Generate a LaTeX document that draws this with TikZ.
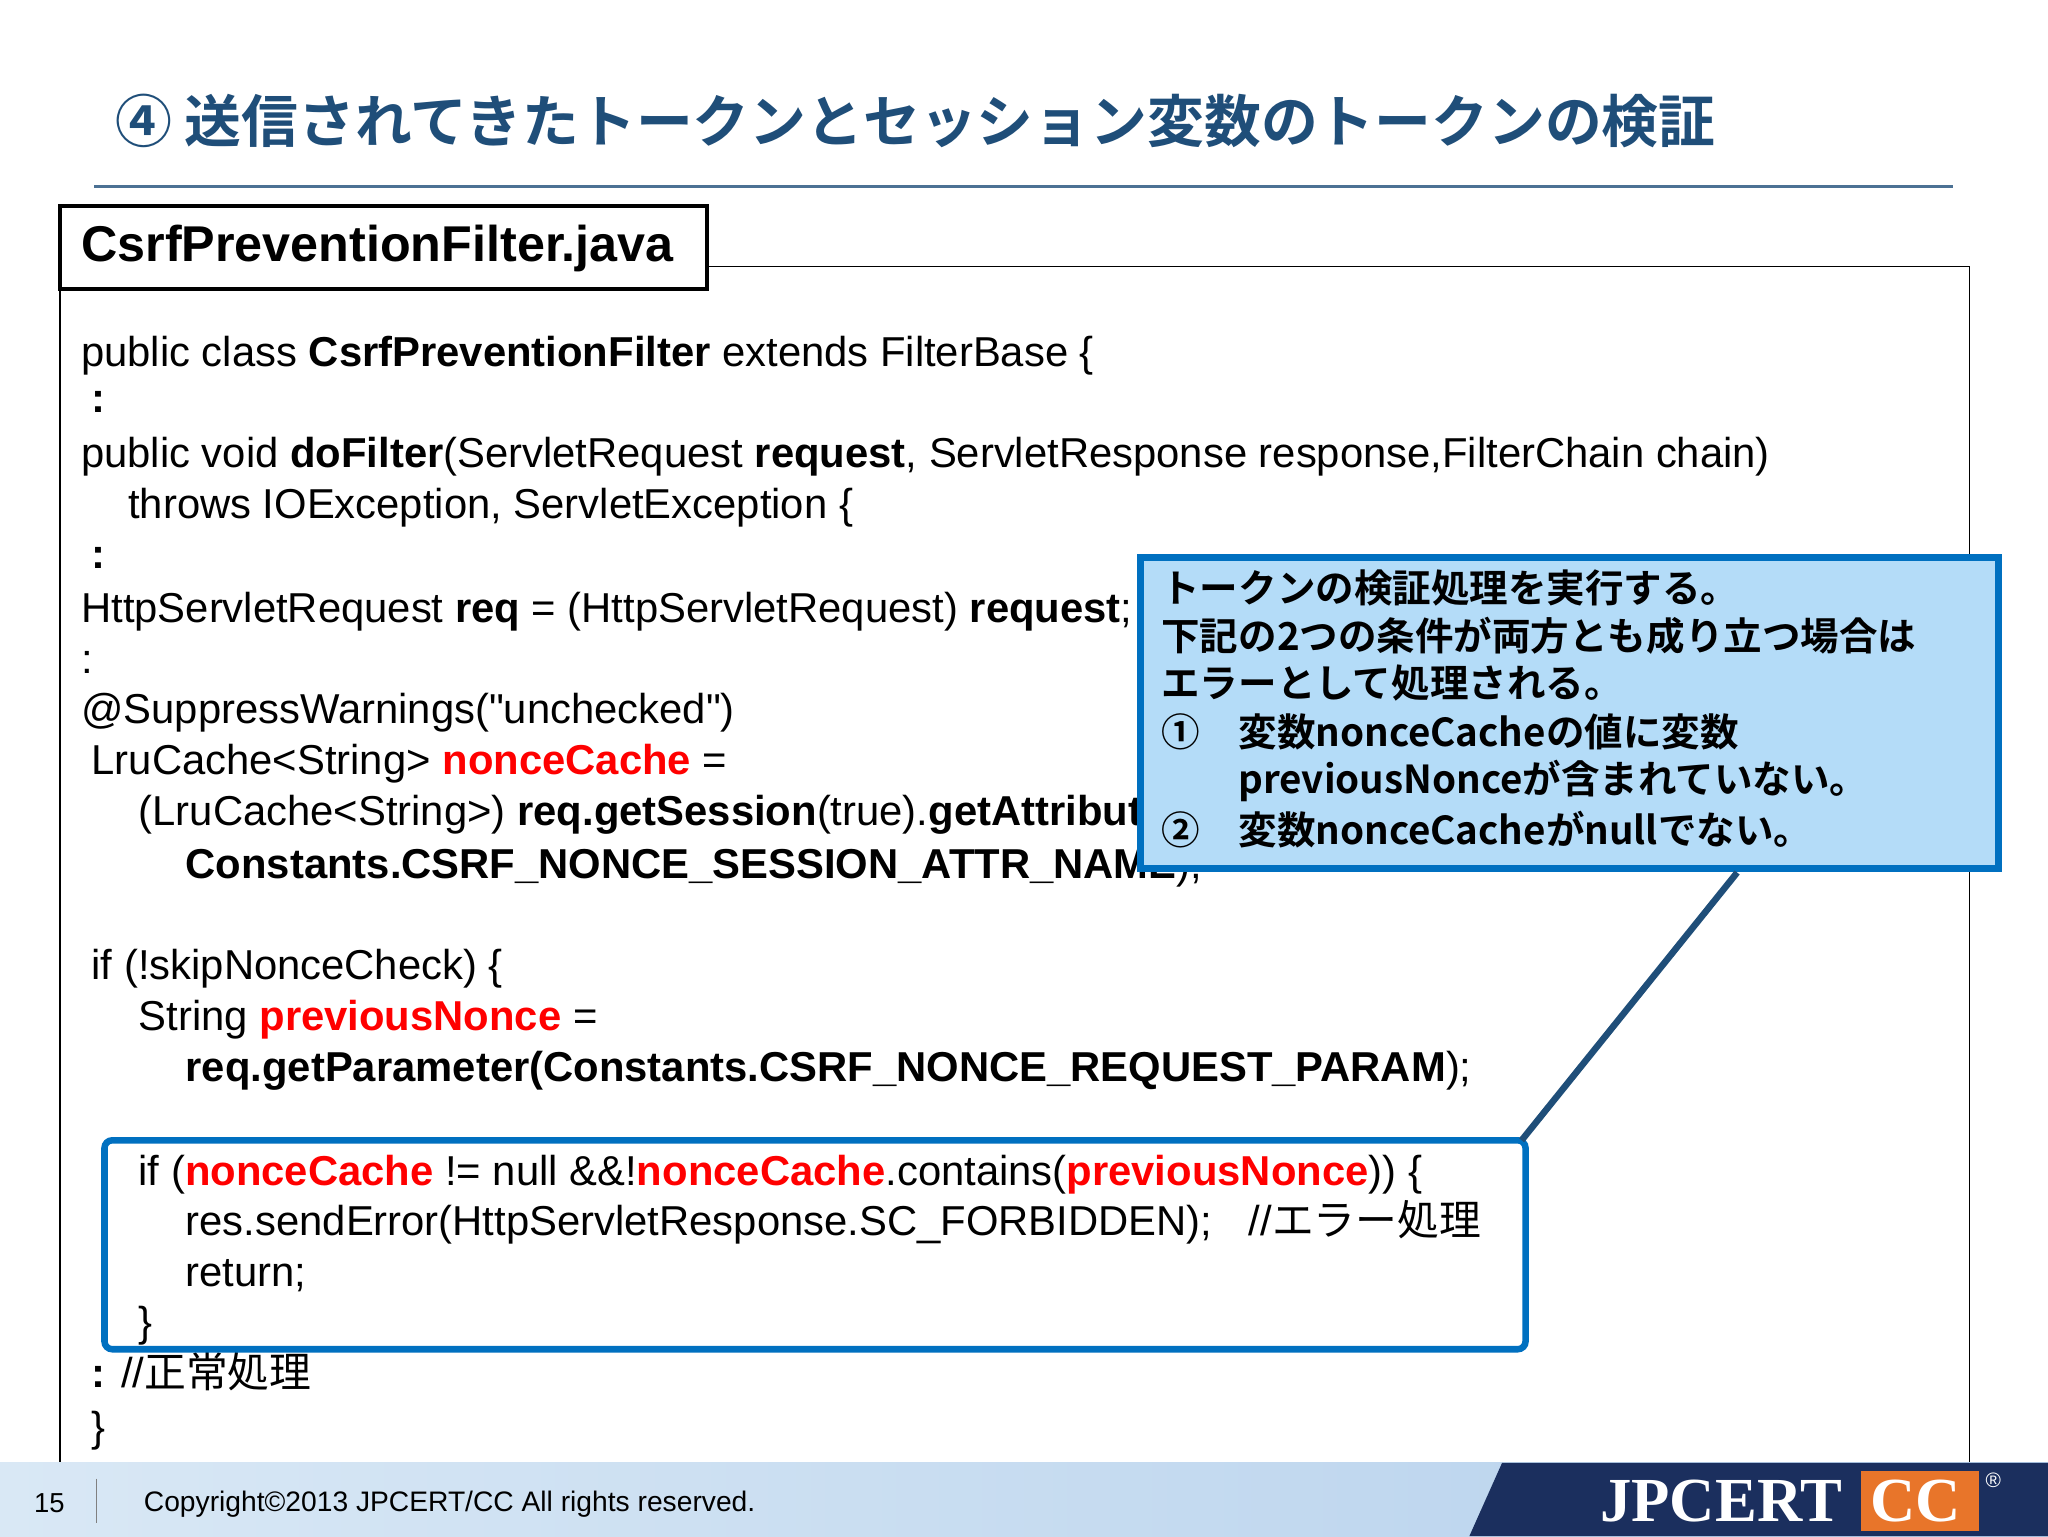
\documentclass[tikz,border=0pt]{standalone}
\usepackage{fontspec}
\setmainfont{Liberation Sans}
\newfontfamily\jp{Noto Sans CJK JP}
\newfontfamily\jpb{Noto Sans CJK JP Bold}
\newfontfamily\logofont{Liberation Serif}
\definecolor{titleblue}{HTML}{1F4E79}
\definecolor{boxblue}{HTML}{0070C0}
\definecolor{callfill}{HTML}{B4DCF8}
\definecolor{navy}{HTML}{1B2F5E}
\definecolor{ccorange}{HTML}{E8752A}
\definecolor{footl}{HTML}{D9E8F5}
\definecolor{footr}{HTML}{B5D0EC}
\newcommand{\rd}[1]{\textcolor{red}{\textbf{#1}}}
\tikzset{
  code/.style={anchor=west,inner sep=0pt,font=\fontsize{32}{38}\selectfont},
  call/.style={anchor=west,inner sep=0pt,font=\jpb\fontsize{29.5}{35}\selectfont},
}
\begin{document}
\begin{tikzpicture}[x=1pt,y=-1pt]
\useasboundingbox (0,0) rectangle (1568,1176);
\fill[white] (0,0) rectangle (1568,1176);
% title
\node[anchor=west,inner sep=0pt,text=titleblue,font=\jpb\fontsize{43.5}{50}\selectfont] (title) at (88,93) {④ 送信されてきたトークンとセッション変数のトークンの検証};
\draw[titleblue!80,line width=2] (72,143) -- (1495,143);
% outer box
\draw[black,line width=1] (46,204) rectangle (1508,1130);
\node[draw=black,line width=3,fill=white,minimum width=495,minimum height=63,inner sep=0pt] (fname) at (293.5,189.5) {};
\node[anchor=west,inner sep=0pt,font=\bfseries\fontsize{38.5}{42}\selectfont] (fnt) at (62,190) {CsrfPreventionFilter.java};
% code
\node[code] (c1) at (62,272) {public class \textbf{CsrfPreventionFilter} extends FilterBase \{};
\node[code] (c2) at (70,308) {\textbf{:}};
\node[code] (c3) at (62,350) {public void \textbf{doFilter}(ServletRequest \textbf{request}, ServletResponse response,FilterChain chain)};
\node[code] (c4) at (98,389) {throws IOException, ServletException \{};
\node[code] (c5) at (70,427) {\textbf{:}};
\node[code] (c6) at (62,468) {HttpServletRequest \textbf{req} = (HttpServletRequest) \textbf{request};};
\node[code] (c7) at (62,507) {:};
\node[code] (c8) at (62,546) {@SuppressWarnings(\textquotedbl unchecked\textquotedbl)};
\node[code] (c9) at (70,585) {LruCache<String> \rd{nonceCache} =};
\node[code] (c10) at (106,624) {(LruCache<String>) \textbf{req.getSession}(true).\textbf{getAttribute}(};
\node[code] (c11) at (142,664) {\textbf{Constants.CSRF\_NONCE\_SESSION\_ATTR\_NAME});};
\node[code] (c12) at (70,742) {if (!skipNonceCheck) \{};
\node[code] (c13) at (106,781) {String \rd{previousNonce} =};
\node[code] (c14) at (142,820) {\textbf{req.getParameter(Constants.CSRF\_NONCE\_REQUEST\_PARAM});};
\node[code] (c15) at (106,899) {if (\rd{nonceCache} != null \&\&!\rd{nonceCache}.contains(\rd{previousNonce})) \{};
\node[code] (c16) at (142,936) {res.sendError(HttpServletResponse.SC\_FORBIDDEN);\hspace{28pt}//{\jp エラー処理}};
\node[code] (c17) at (142,977) {return;};
\node[code] (c18) at (106,1015) {\}};
\node[code] (c19) at (70,1050) {\textbf{:} //{\jp 正常処理}};
\node[code] (c20) at (70,1095) {\}};
% highlight box
\draw[boxblue,line width=5,rounded corners=6] (80,873) rectangle (1168,1033);
\coordinate (hb) at (1165,873);
% callout
\node[draw=boxblue,line width=5,fill=callfill,minimum width=657,minimum height=238,inner sep=0pt] (callout) at (1201.5,546) {};
\draw[titleblue,line width=5] (1330,668) -- (hb);
\node[call] (t1) at (889,450) {トークンの検証処理を実行する。};
\node[call] (t2) at (889,487) {下記の2つの条件が両方とも成り立つ場合は};
\node[call] (t3) at (889,523) {エラーとして処理される。};
\node[call] (t4) at (889,560) {①};
\node[call] (t5) at (948,560) {変数nonceCacheの値に変数};
\node[call] (t6) at (948,598) {previousNonceが含まれていない。};
\node[call] (t7) at (889,635) {②};
\node[call] (t8) at (948,635) {変数nonceCacheがnullでない。};
% footer
\shade[left color=footl, right color=footr] (0,1120) rectangle (1568,1176);
\fill[navy] (1150,1120) -- (1568,1120) -- (1568,1176) -- (1125,1176) -- cycle;
\node[anchor=west,inner sep=0pt,font=\fontsize{21}{24}\selectfont] (pg) at (26,1151) {15};
\draw[gray,line width=1] (74,1132) -- (74,1166);
\node[anchor=west,inner sep=0pt,font=\fontsize{21.6}{24}\selectfont] (copy) at (110,1152) {Copyright©2013 JPCERT/CC All rights reserved.};
\fill[ccorange] (1425,1126) rectangle (1515,1172);
\node[anchor=west,inner sep=0pt,text=white,font=\logofont\bfseries\fontsize{48}{50}\selectfont] (logo1) at (1225,1149) {JPCERT};
\node[anchor=west,inner sep=0pt,text=white,font=\logofont\bfseries\fontsize{48}{50}\selectfont] (logo2) at (1432,1149) {CC};
\node[anchor=west,inner sep=0pt,text=white,font=\fontsize{16}{18}\selectfont] (reg) at (1520,1133) {®};
\end{tikzpicture}
\end{document}
